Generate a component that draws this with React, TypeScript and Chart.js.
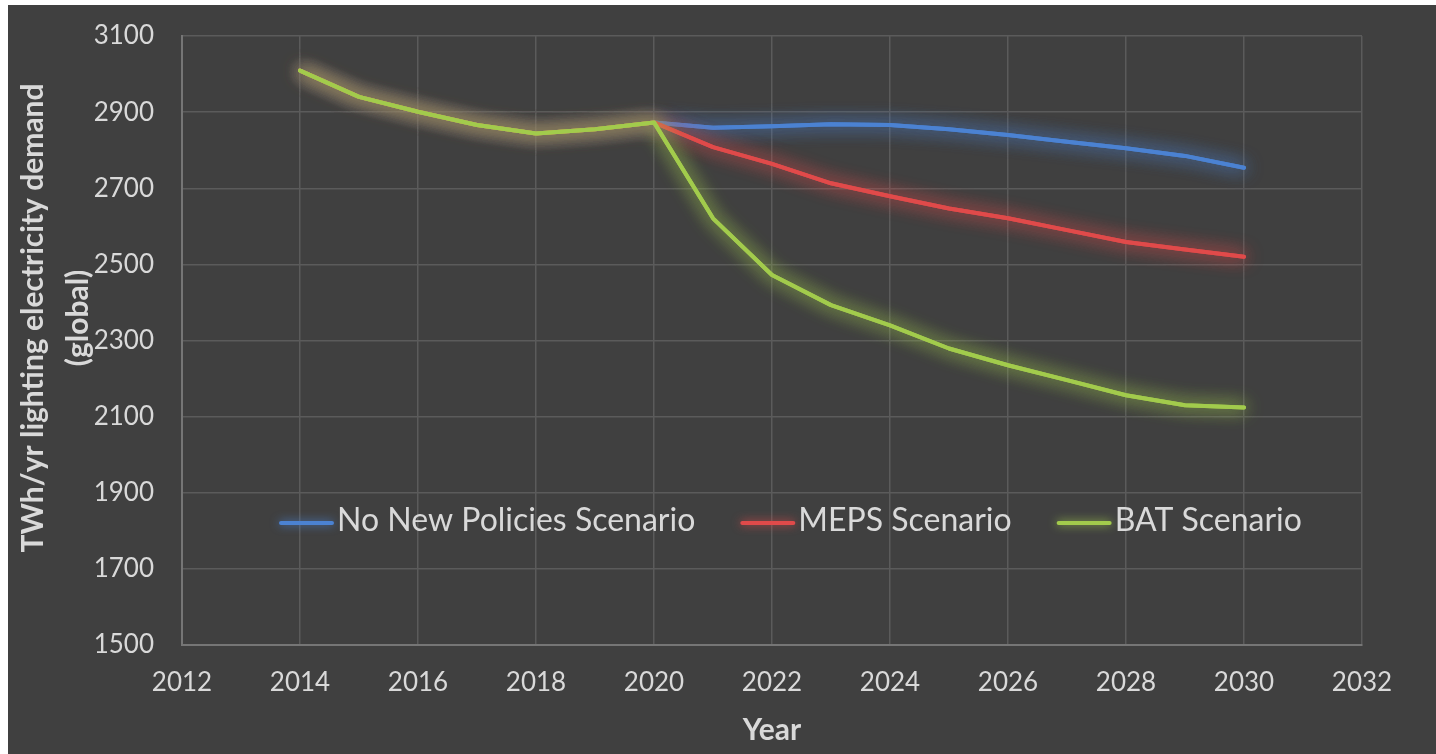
import React, { useEffect, useRef } from "react";
import { Chart, registerables } from "chart.js";

Chart.register(...registerables);

// Global lighting electricity demand by scenario (TWh/yr)
const years = [2014, 2015, 2016, 2017, 2018, 2019, 2020, 2021, 2022, 2023, 2024, 2025, 2026, 2027, 2028, 2029, 2030];
const noNewPolicies = [3009, 2940, 2901, 2866, 2844, 2855, 2873, 2859, 2863, 2868, 2866, 2855, 2840, 2822, 2805, 2785, 2754];
const meps = [3009, 2940, 2901, 2866, 2844, 2855, 2873, 2808, 2764, 2713, 2679, 2647, 2621, 2590, 2559, 2539, 2520];
const bat = [3009, 2940, 2901, 2866, 2844, 2855, 2873, 2621, 2472, 2393, 2340, 2279, 2235, 2196, 2156, 2130, 2124];

const seriesNames = ["No New Policies Scenario", "MEPS Scenario", "BAT Scenario"];
const seriesColors = ["#4b82d2", "#e04a4a", "#a2cb4c"];
const glowColors = ["rgba(75,130,210,0.9)", "rgba(224,74,74,0.9)", "rgba(162,203,76,0.9)"];

const xTicks = { min: 2012, max: 2032, step: 2 };
const yTicks = { min: 1500, max: 3100, step: 200 };

const yTitle = ["TWh/yr lighting electricity demand", "(global)"];
const xTitle = "Year";

const TEXT = "#d9d9d9";
const FONT = "Lato, 'Open Sans', sans-serif";

const toPoints = (vals: number[]) => years.map((y, i) => ({ x: y, y: vals[i] }));

// Soft outer glow around each line (stroked twice so the halo is denser)
const glowPlugin = {
  id: "glow",
  beforeDatasetDraw(chart: any, args: any) {
    const ctx = chart.ctx;
    ctx.save();
    ctx.shadowColor = glowColors[args.index];
    ctx.shadowBlur = 18;
    ctx.shadowOffsetX = 0;
    ctx.shadowOffsetY = 0;
  },
  afterDatasetDraw(chart: any, args: any) {
    args.meta.controller.draw();
    chart.ctx.restore();
  },
};

// Axis titles and the in-plot legend
const decorPlugin = {
  id: "decor",
  afterDraw(chart: any) {
    const ctx = chart.ctx;
    const area = chart.chartArea;
    ctx.save();
    ctx.fillStyle = TEXT;
    ctx.textBaseline = "middle";
    ctx.textAlign = "center";

    // y-axis title (rotated, two lines)
    ctx.font = `bold 30px ${FONT}`;
    ctx.save();
    ctx.translate(0, 313);
    ctx.rotate(-Math.PI / 2);
    ctx.fillText(yTitle[0], 0, 25);
    ctx.fillText(yTitle[1], 0, 70);
    ctx.restore();

    // x-axis title
    ctx.fillText(xTitle, (area.left + area.right) / 2, 725);

    // legend
    ctx.font = `32px ${FONT}`;
    ctx.textAlign = "left";
    const lineLen = 51;
    const gapText = 5;
    const gapItem = 47;
    const ly = 516;
    let lx = 273;
    seriesNames.forEach((name, i) => {
      ctx.save();
      ctx.strokeStyle = seriesColors[i];
      ctx.lineWidth = 4;
      ctx.lineCap = "round";
      ctx.shadowColor = glowColors[i];
      ctx.shadowBlur = 10;
      ctx.beginPath();
      ctx.moveTo(lx, ly + 2);
      ctx.lineTo(lx + lineLen, ly + 2);
      ctx.stroke();
      ctx.restore();
      const tx = lx + lineLen + gapText;
      ctx.fillText(name, tx, ly);
      lx = tx + ctx.measureText(name).width + gapItem;
    });
    ctx.restore();
  },
};

export default function App() {
  const canvasRef = useRef<HTMLCanvasElement | null>(null);

  useEffect(() => {
    if (!canvasRef.current) return;
    const datasets = [noNewPolicies, meps, bat].map((vals, i) => ({
      label: seriesNames[i],
      data: toPoints(vals),
      borderColor: seriesColors[i],
      backgroundColor: seriesColors[i],
      borderWidth: 4,
      pointRadius: 0,
      tension: 0,
      borderJoinStyle: "round" as const,
      borderCapStyle: "round" as const,
      order: 2 - i,
    }));

    const chart = new Chart(canvasRef.current, {
      type: "line",
      data: { datasets },
      plugins: [glowPlugin, decorPlugin],
      options: {
        animation: false,
        responsive: true,
        maintainAspectRatio: false,
        layout: { padding: { top: 31, right: 74, left: 0, bottom: 0 } },
        plugins: {
          legend: { display: false },
          tooltip: { enabled: false },
          title: { display: false },
        },
        scales: {
          x: {
            type: "linear",
            min: xTicks.min,
            max: xTicks.max,
            afterFit: (s: any) => {
              s.height = 109;
            },
            ticks: {
              stepSize: xTicks.step,
              color: TEXT,
              font: { family: FONT, size: 26 },
              padding: 22,
              maxRotation: 0,
              callback: (v: any) => String(v),
            },
            grid: { color: "#5b5b5b", lineWidth: 1.5, drawTicks: false },
            border: { color: "#767676", width: 2 },
          },
          y: {
            min: yTicks.min,
            max: yTicks.max,
            afterFit: (s: any) => {
              s.width = 174;
              s.paddingTop = 0;
              s.paddingBottom = 0;
            },
            ticks: {
              stepSize: yTicks.step,
              color: TEXT,
              font: { family: FONT, size: 26 },
              padding: 28,
              callback: (v: any) => String(v),
            },
            grid: { color: "#5b5b5b", lineWidth: 1.5, drawTicks: false },
            border: { color: "#767676", width: 2 },
          },
        },
      },
    });
    return () => chart.destroy();
  }, []);

  return (
    <div
      style={{
        position: "absolute",
        left: 8,
        top: 5,
        width: 1428,
        height: 749,
        background: "#404040",
      }}
    >
      <canvas ref={canvasRef} />
    </div>
  );
}
